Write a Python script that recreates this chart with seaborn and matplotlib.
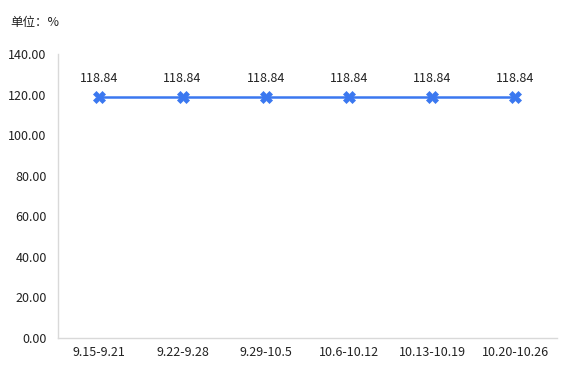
import matplotlib
matplotlib.use("Agg")
import matplotlib.pyplot as plt
import seaborn as sns
import pandas as pd

categories = ["9.15-9.21", "9.22-9.28", "9.29-10.5", "10.6-10.12", "10.13-10.19", "10.20-10.26"]
values = [118.84, 118.84, 118.84, 118.84, 118.84, 118.84]
yticks = [0, 20, 40, 60, 80, 100, 120, 140]

sns.set_theme(style="white")
plt.rcParams['font.family'] = ['Noto Sans CJK SC', 'DejaVu Sans']

df = pd.DataFrame({"period": categories, "value": values})

fig = plt.figure(figsize=(5.67, 3.68), dpi=100)
ax = fig.add_axes([0.102, 0.0815, 0.880, 0.7715])

sns.lineplot(data=df, x="period", y="value", ax=ax, color="#3b78f0",
             linewidth=1.8, marker="X", markersize=8, markeredgewidth=0.5,
             markeredgecolor="#3b78f0", sort=False)

for i, v in enumerate(values):
    ax.annotate(f"{v:.2f}", (i, v), xytext=(0, 9), textcoords="offset points",
                ha="center", va="bottom", fontsize=9, color="#222222")

ax.set_xlim(-0.5, len(categories) - 0.5)
ax.set_ylim(0, 140)
ax.set_yticks(yticks)
ax.set_yticklabels([f"{t:.2f}" for t in yticks])
ax.set_xlabel("")
ax.set_ylabel("")
ax.tick_params(axis="both", labelsize=9, colors="#222222", length=0, pad=6)
ax.tick_params(axis="y", pad=8)

for s in ["top", "right"]:
    ax.spines[s].set_visible(False)
for s in ["left", "bottom"]:
    ax.spines[s].set_color("#d9d9d9")
    ax.spines[s].set_linewidth(1)

fig.text(0.018, 0.94, "单位：%", fontsize=9, color="#222222", ha="left", va="center")

fig.savefig("out.png", dpi=100)
